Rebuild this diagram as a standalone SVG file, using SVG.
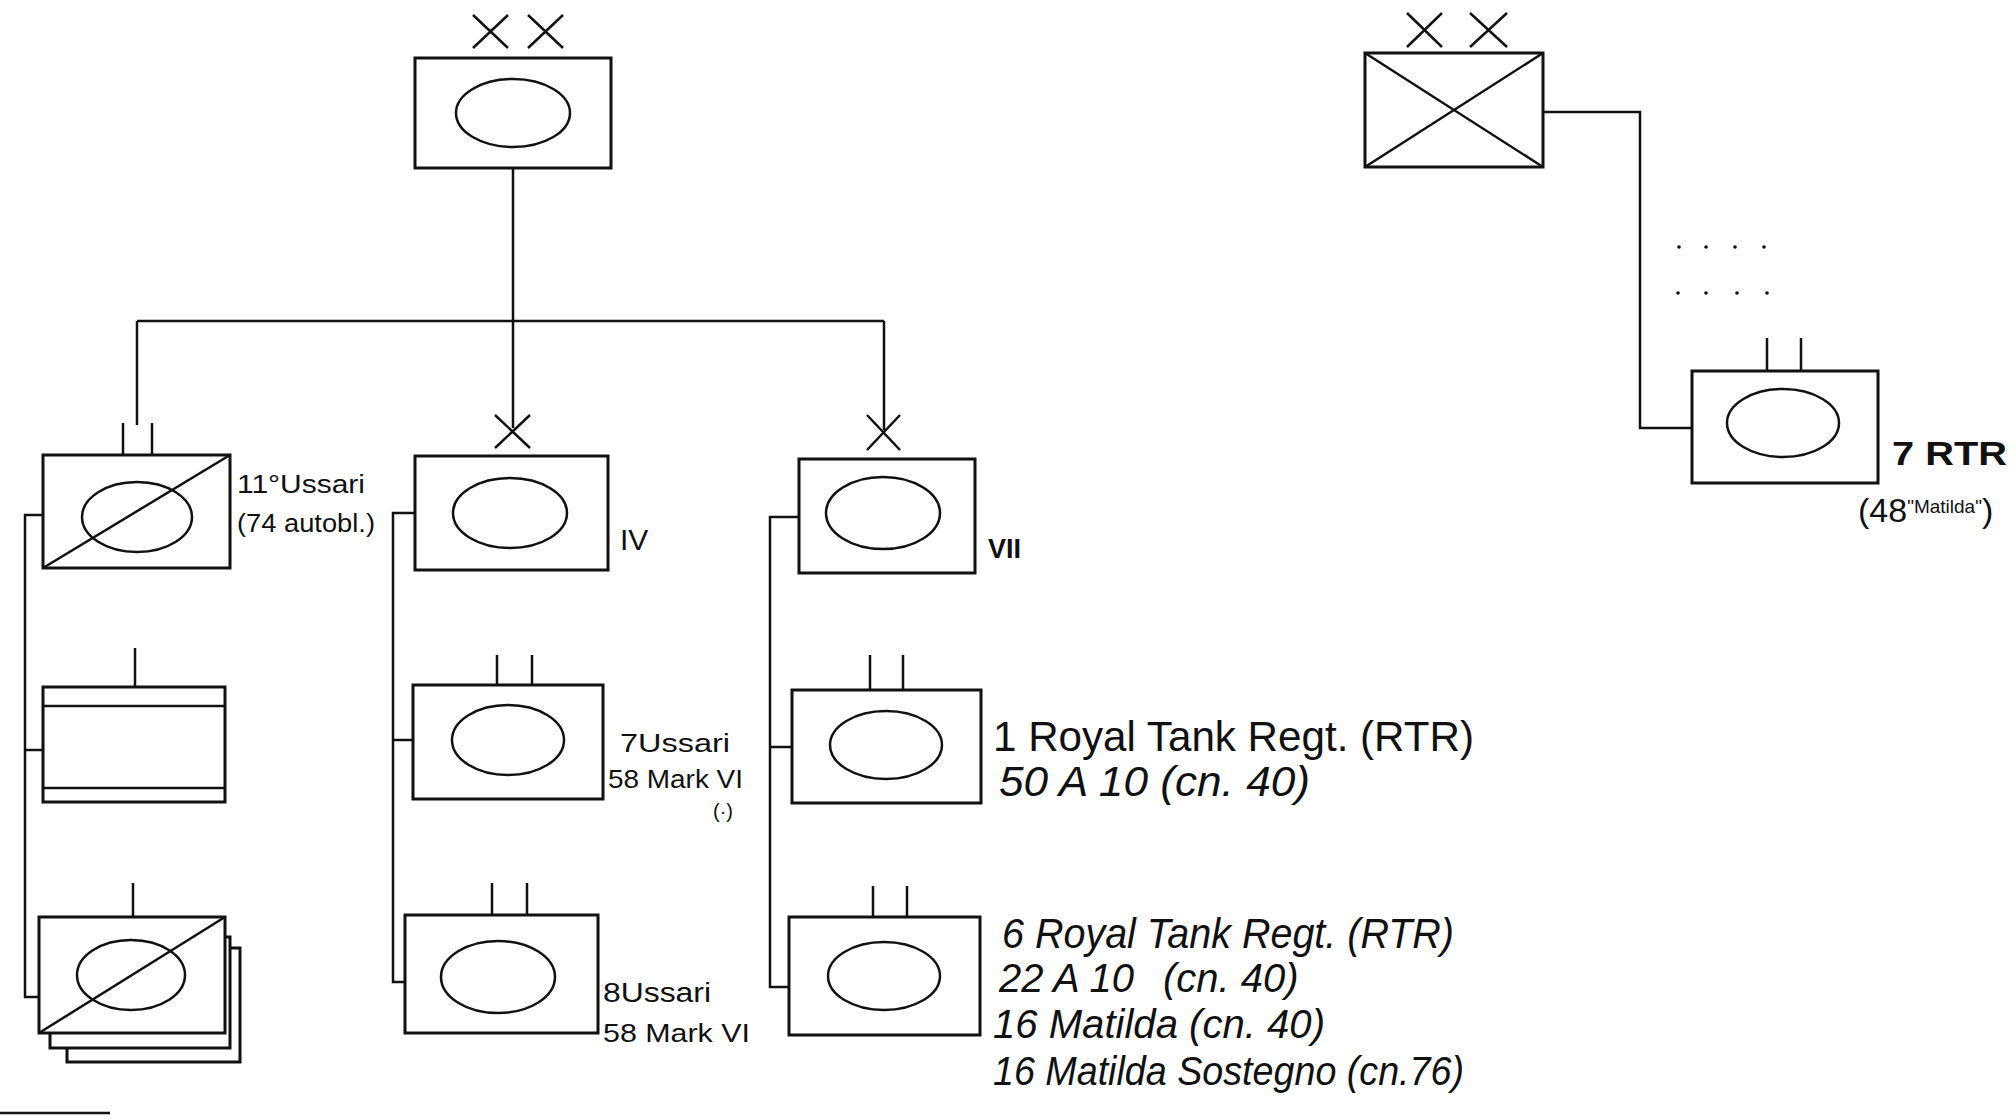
<svg xmlns="http://www.w3.org/2000/svg" width="2014" height="1119" viewBox="0 0 2014 1119">
<style>
.box{fill:none;stroke:#111;stroke-width:3}
.wbox{fill:#fff;stroke:#111;stroke-width:3}
.ov{fill:none;stroke:#111;stroke-width:2.5}
.ln{fill:none;stroke:#111;stroke-width:2.5}
.t{font-family:"Liberation Sans",Arial,sans-serif;fill:#111}
.it{font-family:"Liberation Sans",Arial,sans-serif;font-style:italic;fill:#111}
</style>
<rect width="2014" height="1119" fill="#fff"/>
<g id="connectors" class="ln">
<path d="M513,168 V428"/>
<path d="M137,321 H884"/>
<path d="M137,321 V425"/>
<path d="M884,321 V430"/>
<path d="M43,515 H25 V997 H39 M25,750 H43"/>
<path d="M415,513 H393 V982 H405 M393,740 H413"/>
<path d="M799,517 H770 V987 H789 M770,747 H792"/>
<path d="M1543,112 H1640 V428 H1692"/>
</g>
<g id="dots" fill="#111">
<circle cx="1679" cy="247" r="1.8"/><circle cx="1706" cy="247" r="1.8"/><circle cx="1735" cy="247" r="1.8"/><circle cx="1764" cy="247" r="1.8"/>
<circle cx="1678" cy="293" r="1.8"/><circle cx="1706" cy="293" r="1.8"/><circle cx="1737" cy="293" r="1.8"/><circle cx="1767" cy="293" r="1.8"/>
</g>
<g id="div-left">
<path class="ln" d="M473,15 L508,48 M508,15 L473,48 M528,15 L563,48 M563,15 L528,48"/>
<rect class="box" x="415" y="58" width="196" height="110"/>
<ellipse class="ov" cx="513" cy="113" rx="57" ry="34"/>
</g>
<g id="div-right">
<path class="ln" d="M1407,13 L1442,47 M1442,13 L1407,47 M1470,13 L1507,47 M1507,13 L1470,47"/>
<rect class="box" x="1365" y="53" width="178" height="114"/>
<path class="ln" d="M1365,53 L1543,167 M1543,53 L1365,167"/>
</g>
<g id="rtr7">
<path class="ln" d="M1767,338 V371 M1801,338 V371"/>
<rect class="box" x="1692" y="371" width="186" height="112"/>
<ellipse class="ov" cx="1783" cy="423" rx="56" ry="34"/>
<text class="t" x="1892" y="465" font-size="33" font-weight="bold" textLength="115" lengthAdjust="spacingAndGlyphs">7 RTR</text>
<text class="t" x="1858" y="522" font-size="34">(48<tspan font-size="19" dy="-9">"Matilda"</tspan><tspan dy="9">)</tspan></text>
</g>
<g id="ussari11">
<path class="ln" d="M123,423 V455 M152,423 V455"/>
<rect class="box" x="43" y="455" width="187" height="113"/>
<ellipse class="ov" cx="137" cy="517" rx="55" ry="35"/>
<path class="ln" d="M43,568 L230,455"/>
<text class="t" x="237" y="493" font-size="26" textLength="128" lengthAdjust="spacingAndGlyphs">11°Ussari</text>
<text class="t" x="237" y="532" font-size="26" textLength="138" lengthAdjust="spacingAndGlyphs">(74 autobl.)</text>
</g>
<g id="support">
<path class="ln" d="M135,648 V687"/>
<rect class="box" x="43" y="687" width="182" height="115"/>
<path class="ln" d="M43,706 H225 M43,788 H225"/>
</g>
<g id="stack">
<rect class="wbox" x="67" y="948" width="173" height="114"/>
<rect class="wbox" x="50" y="937" width="180" height="111"/>
<path class="ln" d="M133,883 V917"/>
<rect class="wbox" x="39" y="917" width="186" height="116"/>
<ellipse class="ov" cx="131" cy="975" rx="54" ry="35"/>
<path class="ln" d="M39,1033 L225,917"/>
</g>
<g id="brigIV">
<path class="ln" d="M495,415 L530,448 M530,415 L495,448"/>
<rect class="box" x="415" y="456" width="193" height="114"/>
<ellipse class="ov" cx="510" cy="513" rx="57" ry="35"/>
<text class="t" x="620" y="550" font-size="30">IV</text>
</g>
<g id="ussari7">
<path class="ln" d="M497,655 V685 M532,655 V685"/>
<rect class="box" x="413" y="685" width="190" height="114"/>
<ellipse class="ov" cx="508" cy="740" rx="56" ry="35"/>
<text class="t" x="620" y="752" font-size="26" textLength="110" lengthAdjust="spacingAndGlyphs">7Ussari</text>
<text class="t" x="608" y="788" font-size="26" textLength="135" lengthAdjust="spacingAndGlyphs">58 Mark VI</text>
<text class="t" x="713" y="818" font-size="20">(·)</text>
</g>
<g id="ussari8">
<path class="ln" d="M492,883 V915 M527,883 V915"/>
<rect class="box" x="405" y="915" width="193" height="118"/>
<ellipse class="ov" cx="498" cy="977" rx="57" ry="36"/>
<text class="t" x="603" y="1002" font-size="27" textLength="108" lengthAdjust="spacingAndGlyphs">8Ussari</text>
<text class="t" x="603" y="1042" font-size="25" textLength="147" lengthAdjust="spacingAndGlyphs">58 Mark VI</text>
</g>
<g id="brigVII">
<path class="ln" d="M867,415 L900,450 M900,415 L867,450"/>
<rect class="box" x="799" y="459" width="176" height="114"/>
<ellipse class="ov" cx="883" cy="513" rx="57" ry="36"/>
<text class="t" x="988" y="558" font-size="27" font-weight="bold">VII</text>
</g>
<g id="rtr1">
<path class="ln" d="M870,655 V690 M903,655 V690"/>
<rect class="box" x="792" y="690" width="189" height="113"/>
<ellipse class="ov" cx="886" cy="745" rx="56" ry="34"/>
<text class="t" x="993" y="751" font-size="42" textLength="481" lengthAdjust="spacingAndGlyphs">1 Royal Tank Regt. (RTR)</text>
<text class="it" x="999" y="796" font-size="42" textLength="311" lengthAdjust="spacingAndGlyphs">50 A 10 (cn. 40)</text>
</g>
<g id="rtr6">
<path class="ln" d="M873,886 V917 M907,886 V917"/>
<rect class="box" x="789" y="917" width="191" height="118"/>
<ellipse class="ov" cx="884" cy="976" rx="56" ry="34"/>
<text class="it" x="1002" y="948" font-size="42" textLength="452" lengthAdjust="spacingAndGlyphs">6 Royal Tank Regt. (RTR)</text>
<text class="it" x="999" y="992" font-size="40" xml:space="preserve">22 A 10  <tspan x="1163">(cn. 40)</tspan></text>
<text class="it" x="993" y="1038" font-size="40" textLength="332" lengthAdjust="spacingAndGlyphs">16 Matilda (cn. 40)</text>
<text class="it" x="993" y="1085" font-size="40" textLength="471" lengthAdjust="spacingAndGlyphs">16 Matilda Sostegno (cn.76)</text>
</g>
<path class="ln" d="M0,1113 H110"/>
</svg>
